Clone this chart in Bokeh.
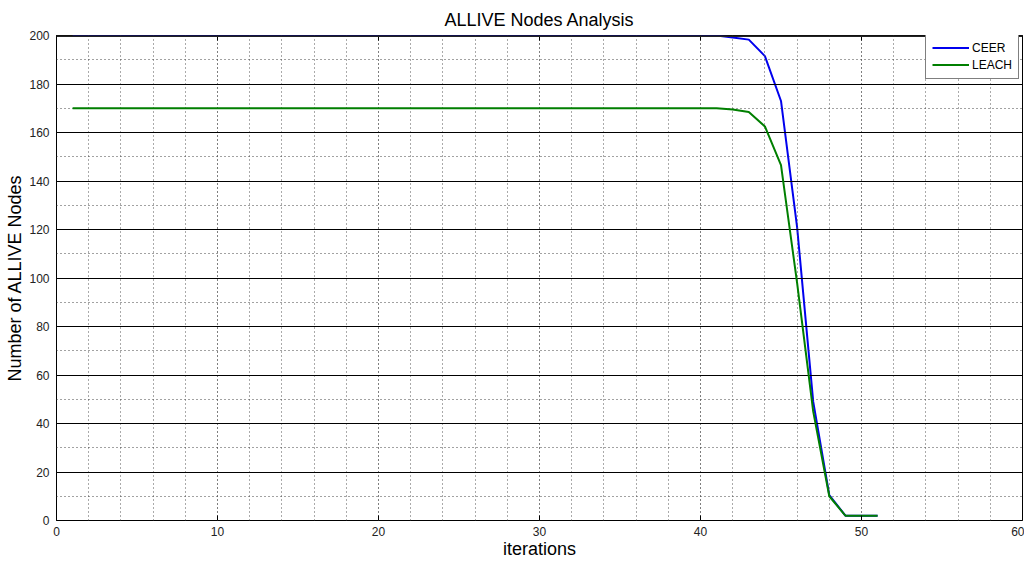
from bokeh.plotting import figure
from bokeh.models import (Range1d, SingleIntervalTicker, LinearAxis, Legend,
                          LegendItem, Grid, Span, CustomJSTickFormatter)
from bokeh.embed import file_html
from bokeh.resources import INLINE

# Alive nodes per iteration for the two protocols
iterations = list(range(1, 52))
ceer = [200, 200, 200, 200, 200, 200, 200, 200, 200, 200,
        200, 200, 200, 200, 200, 200, 200, 200, 200, 200,
        200, 200, 200, 200, 200, 200, 200, 200, 200, 200,
        200, 200, 200, 200, 200, 200, 200, 200, 200, 200,
        200, 199.2, 198.3, 191.5, 173, 121, 49, 10.5, 2, 2, 2]
leach = [170, 170, 170, 170, 170, 170, 170, 170, 170, 170,
         170, 170, 170, 170, 170, 170, 170, 170, 170, 170,
         170, 170, 170, 170, 170, 170, 170, 170, 170, 170,
         170, 170, 170, 170, 170, 170, 170, 170, 170, 170,
         170, 169.5, 168.5, 162.5, 146.5, 98, 45, 10, 2, 2, 2]

FONT = "Liberation Sans"

p = figure(width=1024, height=561, output_backend="svg", toolbar_location=None,
           x_range=Range1d(0, 60), y_range=Range1d(0, 200),
           x_axis_type=None, y_axis_type=None,
           min_border_left=56, min_border_right=2,
           min_border_top=35, min_border_bottom=41)
p.background_fill_color = "white"
p.border_fill_color = "white"
p.outline_line_color = "black"
p.outline_line_width = 1

p.title.text = "ALLIVE Nodes Analysis"
p.title.align = "center"
p.title.text_font = FONT
p.title.text_font_size = "18px"
p.title.text_font_style = "normal"
p.title.text_color = "black"
p.title.standoff = 4


def style_axis(ax, labels=True):
    ax.major_tick_in = 5
    ax.major_tick_out = 0
    ax.minor_tick_line_color = None
    ax.axis_line_color = None
    ax.major_tick_line_color = "black"
    ax.major_label_text_font = FONT
    ax.major_label_text_font_size = "12px"
    ax.major_label_text_color = "#222222"
    ax.axis_label_text_font = FONT
    ax.axis_label_text_font_size = "18px"
    ax.axis_label_text_font_style = "normal"
    ax.axis_label_text_color = "black"
    if not labels:
        # tick marks only, on the top side of the box
        ax.formatter = CustomJSTickFormatter(code="return ''")
        ax.major_label_standoff = 0
        ax.axis_label_standoff = 0


xticker = SingleIntervalTicker(interval=10, num_minor_ticks=5)
yticker = SingleIntervalTicker(interval=20, num_minor_ticks=2)

xaxis = LinearAxis(ticker=xticker, axis_label="iterations")
style_axis(xaxis)
xaxis.major_label_standoff = 2
xaxis.axis_label_standoff = 0
p.add_layout(xaxis, "below")

yaxis = LinearAxis(ticker=yticker, axis_label="Number of ALLIVE Nodes")
style_axis(yaxis)
yaxis.major_label_standoff = 3
yaxis.axis_label_standoff = 1
p.add_layout(yaxis, "left")

top_axis = LinearAxis(ticker=xticker)
style_axis(top_axis, labels=False)
p.add_layout(top_axis, "above")

# Vertical grid: dotted every 2 iterations
xgrid = Grid(dimension=0, ticker=xticker,
             grid_line_color="#555555", grid_line_dash="1 3",
             minor_grid_line_color="#555555", minor_grid_line_dash="1 3")
# Horizontal grid: solid every 20, dotted in between
ygrid = Grid(dimension=1, ticker=yticker,
             grid_line_color="black", grid_line_width=1,
             minor_grid_line_color="#444444", minor_grid_line_dash="1 3")
p.add_layout(xgrid)
p.add_layout(ygrid)

r_ceer = p.line(iterations, ceer, line_color="#0000ee", line_width=2,
                level="underlay")
r_leach = p.line(iterations, leach, line_color="#007f00", line_width=2)

# Top edge of the axes box drawn over the data lines
p.add_layout(Span(location=200, dimension="width", line_color="#222222",
                  line_width=3, level="overlay"))

legend = Legend(items=[LegendItem(label="CEER", renderers=[r_ceer]),
                       LegendItem(label="LEACH", renderers=[r_leach])],
                location=(869, 441))
legend.label_text_font = FONT
legend.label_text_font_size = "12px"
legend.label_text_color = "black"
legend.glyph_width = 37
legend.glyph_height = 15
legend.label_height = 15
legend.label_standoff = 3
legend.spacing = 2
legend.padding = 6
legend.margin = 0
legend.border_line_color = "black"
legend.border_line_width = 1
legend.background_fill_color = "white"
legend.background_fill_alpha = 1
p.add_layout(legend, "center")

open("out.html", "w").write(file_html(p, INLINE))
